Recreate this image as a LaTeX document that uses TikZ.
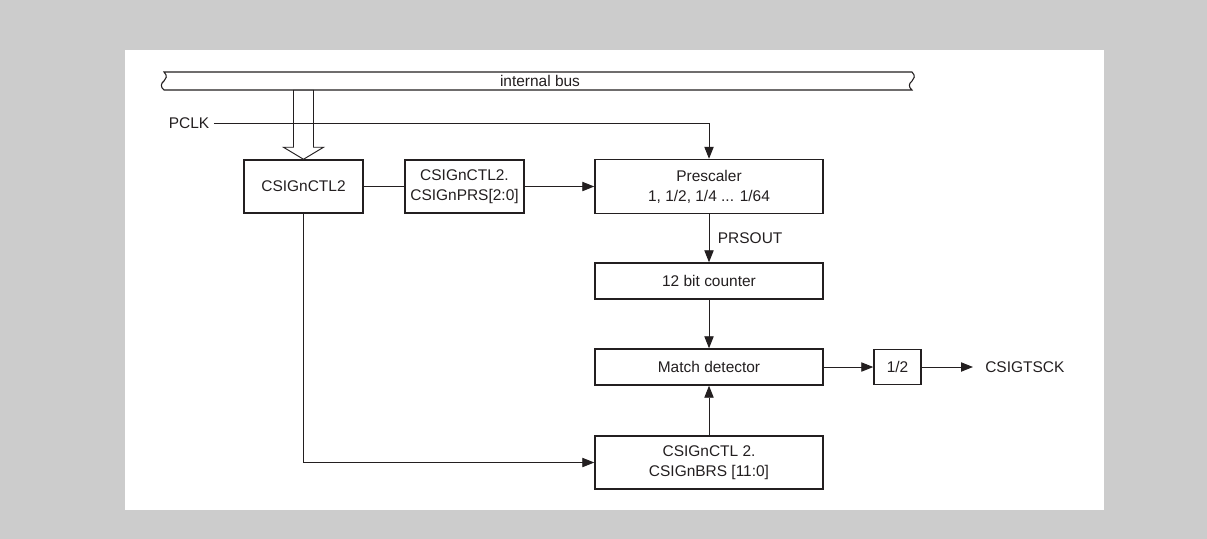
\documentclass[tikz,border=0pt]{standalone}
\usepackage{fontspec}
\setmainfont{Liberation Sans}
\usetikzlibrary{arrows.meta, positioning}
\definecolor{panelgray}{RGB}{204,204,204}
\definecolor{ink}{RGB}{35,31,32}

\begin{document}
\begin{tikzpicture}[x=0.75pt, y=-0.75pt, >={Triangle[length=9pt, width=7pt]},
    font=\fontsize{11.6}{15}\selectfont,
    blk/.style={draw=ink, line width=1.1pt, align=center, text=ink, inner sep=2pt},
    wire/.style={draw=ink, line width=0.7pt},
    lbl/.style={text=ink}]
      % Background
      \fill[panelgray] (0,0) rectangle (1207,539);
      \fill[white] (125,50) rectangle (1104,510);

      % Bus
      \draw[ink, line width=0.8pt, fill=white] (164,72) -- (912,72)
        .. controls (916,76) and (914,79) .. (912,81)
        .. controls (909,83) and (908,87) .. (912,90) -- (164,90)
        .. controls (160,87) and (161,83) .. (164,81)
        .. controls (166,79) and (168,76) .. (164,72) -- cycle;
      \node[lbl] (bus) at (540,81) {internal bus};

      % Nodes
      \node[blk, minimum width=89.25pt, minimum height=39.75pt] (ctl) at (303.5,186.5) {CSIGnCTL2};
      \node[blk, minimum width=89.25pt, minimum height=39.75pt] (prs) at (464.5,186.5) {CSIGnCTL2.\\CSIGnPRS[2:0]};
      \node[blk, minimum width=171pt, minimum height=40.5pt] (presc) at (709,186.5) {Prescaler\\1, 1/2, 1/4 ... 1/64};
      \node[blk, minimum width=171pt, minimum height=27pt] (counter) at (709,281) {12 bit counter};
      \node[blk, minimum width=171pt, minimum height=27pt] (match) at (709,367) {Match detector};
      \node[blk, minimum width=35.25pt, minimum height=26.25pt] (half) at (897.5,367) {1/2};
      \node[blk, minimum width=171pt, minimum height=39.75pt] (brs) at (709,462.5) {CSIGnCTL 2.\\CSIGnBRS [11:0]};
      \node[lbl, anchor=west, inner xsep=9pt] (tsck) at (973,367) {CSIGTSCK};
      \node[lbl] (pclk) at (189,123) {PCLK};

      % Arrows
      \draw[ink, line width=0.7pt, fill=white] (ctl.north) -- ++(20,-12) -- ++(-10,0) -- ++(0,-57)
        -- ++(-20,0) -- ++(0,57) -- ++(-10,0) -- cycle;
      \draw[wire, ->] (pclk) -- (pclk -| presc) -- (presc);
      \draw[wire] (ctl) -- (prs);
      \draw[wire, ->] (prs) -- (presc);
      \draw[wire, ->] (presc) -- node[lbl, right=3pt] {PRSOUT} (counter);
      \draw[wire, ->] (counter) -- (match);
      \draw[wire, ->] (brs) -- (match);
      \draw[wire, ->] (ctl) |- (brs);
      \draw[wire, ->] (match) -- (half);
      \draw[wire, ->] (half) -- (tsck);
\end{tikzpicture}
\end{document}
